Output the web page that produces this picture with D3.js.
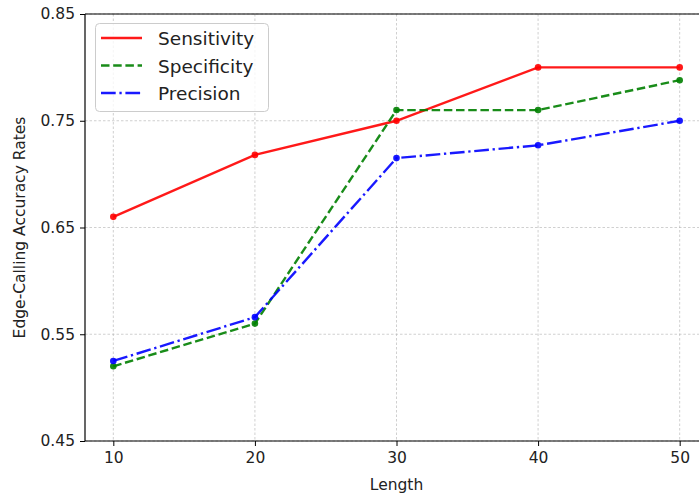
<!DOCTYPE html>
<html><head><meta charset="utf-8">
<script src="https://cdn.jsdelivr.net/npm/d3@7"></script>
<style>body{margin:0;background:#fff}svg{display:block;font-family:"DejaVu Sans",sans-serif}</style>
</head><body><svg id="c" width="699" height="499"></svg>
<script>
const lengths = [10, 20, 30, 40, 50];
const sensitivity = [0.66, 0.718, 0.75, 0.80, 0.80];
const specificity = [0.52, 0.56, 0.76, 0.76, 0.788];
const precision = [0.525, 0.566, 0.715, 0.727, 0.75];
const xTicks = [10, 20, 30, 40, 50];
const yTicks = [0.45, 0.55, 0.65, 0.75, 0.85];
const seriesNames = ["Sensitivity", "Specificity", "Precision"];

const svg = d3.select("#c");
const m = {l: 85, t: 14, r: 708, b: 441};
const x = d3.scaleLinear().domain([8, 52]).range([m.l, m.r]);
const y = d3.scaleLinear().domain([0.45, 0.85]).range([m.b, m.t]);

const clip = svg.append("defs").append("clipPath").attr("id","pc")
  .append("rect").attr("x", m.l).attr("y", m.t).attr("width", m.r-m.l).attr("height", m.b-m.t);

// grid
const g = svg.append("g");
xTicks.forEach(t => g.append("line").attr("x1", x(t)).attr("x2", x(t)).attr("y1", m.t).attr("y2", m.b)
  .attr("stroke","#b0b0b0").attr("stroke-width",0.6).attr("stroke-dasharray","2.5,2"));
yTicks.forEach(t => g.append("line").attr("x1", m.l).attr("x2", m.r).attr("y1", y(t)).attr("y2", y(t))
  .attr("stroke","#b0b0b0").attr("stroke-width",0.6).attr("stroke-dasharray","2.5,2"));

// axes
const xa = svg.append("g").attr("transform",`translate(0,${m.b})`)
  .call(d3.axisBottom(x).tickValues(xTicks).tickFormat(d3.format("d")).tickSize(5).tickPadding(6));
const ya = svg.append("g").attr("transform",`translate(${m.l},0)`)
  .call(d3.axisLeft(y).tickValues(yTicks).tickFormat(d3.format(".2f")).tickSize(5).tickPadding(5));
[xa, ya].forEach(a => {
  a.selectAll("path").remove();
  a.selectAll("line").attr("stroke","#000").attr("stroke-width",1);
  a.selectAll("text").attr("font-size","15.5px").attr("fill","#222").attr("font-family","DejaVu Sans");
});
// spines
svg.append("line").attr("x1",m.l).attr("x2",m.l).attr("y1",m.t).attr("y2",m.b).attr("stroke","#000").attr("stroke-width",1.2);
svg.append("line").attr("x1",m.l).attr("x2",m.r).attr("y1",m.b).attr("y2",m.b).attr("stroke","#000").attr("stroke-width",1.2);
svg.append("line").attr("x1",m.l).attr("x2",m.r).attr("y1",m.t).attr("y2",m.t).attr("stroke","#000").attr("stroke-width",1.2);

// labels
svg.append("text").attr("x", x(30)).attr("y", 490).attr("text-anchor","middle")
  .attr("font-size","15.5px").attr("fill","#222").text("Length");
svg.append("text").attr("transform",`translate(25,${(m.t+m.b)/2}) rotate(-90)`).attr("text-anchor","middle")
  .attr("font-size","15.5px").attr("fill","#222").text("Edge-Calling Accuracy Rates");

const series = [
  {name: seriesNames[0], vals: sensitivity, color: "#ff0000", dash: null},
  {name: seriesNames[1], vals: specificity, color: "#008000", dash: "8.5,3.7"},
  {name: seriesNames[2], vals: precision, color: "#0000ff", dash: "14.7,3.7,2.3,3.7"}
];
const line = d3.line().x((d,i) => x(lengths[i])).y(d => y(d));
const pg = svg.append("g").attr("clip-path","url(#pc)");
series.forEach(s => {
  pg.append("path").attr("d", line(s.vals)).attr("fill","none").attr("stroke", s.color)
    .attr("stroke-width",2.4).attr("stroke-opacity",0.9).attr("stroke-dasharray", s.dash);
  pg.selectAll(null).data(s.vals).enter().append("circle")
    .attr("cx",(d,i)=>x(lengths[i])).attr("cy",d=>y(d)).attr("r",3.3).attr("fill",s.color).attr("fill-opacity",0.9);
});

// legend
const lg = svg.append("g");
lg.append("rect").attr("x",95.5).attr("y",23.5).attr("width",173).attr("height",88).attr("rx",4)
  .attr("fill","#fff").attr("fill-opacity",0.8).attr("stroke","#ccc").attr("stroke-width",1);
series.forEach((s,i) => {
  const yy = 38 + i*27.5;
  lg.append("line").attr("x1",101).attr("x2",142).attr("y1",yy).attr("y2",yy).attr("stroke",s.color)
    .attr("stroke-width",2.4).attr("stroke-opacity",0.9).attr("stroke-dasharray",s.dash);
  lg.append("text").attr("x",158).attr("y",yy+7).attr("font-size","18.5px").attr("fill","#222").text(s.name);
});
</script></body></html>
